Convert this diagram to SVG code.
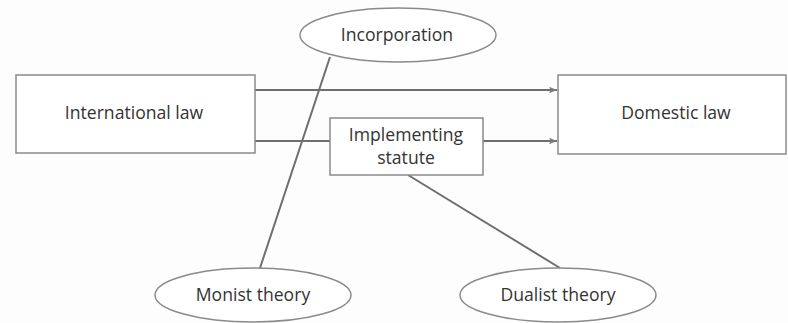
<svg xmlns="http://www.w3.org/2000/svg" width="788" height="323" viewBox="0 0 788 323">
  <style>
    .box { fill: #ffffff; stroke: #8a8a8a; stroke-width: 1.5; }
    .oval { fill: #ffffff; stroke: #8a8a8a; stroke-width: 1.5; }
    .lbl { font-family: "Open Sans", "Liberation Sans", sans-serif; font-size: 17.6px; fill: #333333; text-anchor: middle; }
    .link { stroke: #6e6e6e; stroke-width: 2; fill: none; }
  </style>
  <defs>
    <marker id="arrow" viewBox="0 0 10 10" refX="10" refY="5" markerWidth="9" markerHeight="8" orient="auto" markerUnits="userSpaceOnUse">
      <path d="M0,1 L10,5 L0,9 L2,5 Z" fill="#7a7a7a"/>
    </marker>
  </defs>
  <rect width="788" height="323" fill="#fdfdfd"/>

  <g id="connectors">
    <line class="link" x1="255" y1="90" x2="557" y2="90" marker-end="url(#arrow)"/>
    <line class="link" x1="255" y1="141" x2="330" y2="141"/>
    <line class="link" x1="483" y1="141" x2="557" y2="141" marker-end="url(#arrow)"/>
    <line class="link" x1="330" y1="57" x2="260" y2="268"/>
    <line class="link" x1="408" y1="175" x2="560" y2="268"/>
  </g>

  <g id="international-law">
    <rect class="box" x="16" y="75" width="239" height="78"/>
    <text class="lbl" x="134" y="119">International law</text>
  </g>

  <g id="domestic-law">
    <rect class="box" x="558" y="75" width="228" height="79"/>
    <text class="lbl" x="676" y="119">Domestic law</text>
  </g>

  <g id="implementing-statute">
    <rect class="box" x="330" y="118" width="153" height="57"/>
    <text class="lbl" x="406" y="141">Implementing</text>
    <text class="lbl" x="406" y="164">statute</text>
  </g>

  <g id="incorporation">
    <ellipse class="oval" cx="398" cy="35" rx="98" ry="27"/>
    <text class="lbl" x="397" y="41">Incorporation</text>
  </g>

  <g id="monist-theory">
    <ellipse class="oval" cx="253" cy="295" rx="98" ry="27"/>
    <text class="lbl" x="253" y="301">Monist theory</text>
  </g>

  <g id="dualist-theory">
    <ellipse class="oval" cx="558" cy="295" rx="98" ry="27"/>
    <text class="lbl" x="558" y="301">Dualist theory</text>
  </g>
</svg>
